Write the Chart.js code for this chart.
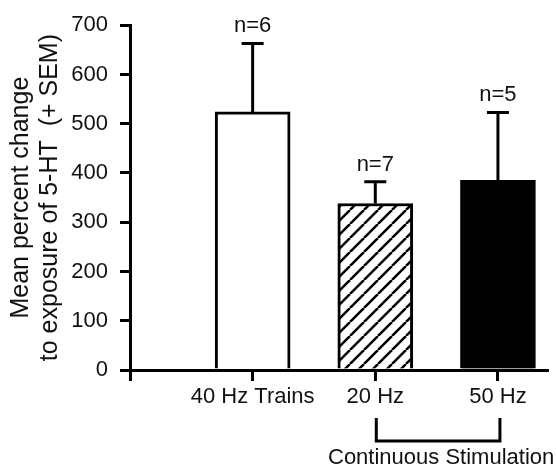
<!DOCTYPE html>
<html>
<head>
<meta charset="utf-8">
<script src="https://cdn.jsdelivr.net/npm/chart.js@4/dist/chart.umd.min.js"></script>
<style>html,body{margin:0;padding:0;background:#fff}</style>
</head>
<body>
<canvas id="myChart" width="556" height="468"></canvas>
<script>
const categories = ['40 Hz Trains', '20 Hz', '50 Hz'];
const positions = [1, 2, 3];
const means = [524, 338, 385];
const sems = [139, 44, 138];
const counts = ['n=6', 'n=7', 'n=5'];
const yTicks = [0, 100, 200, 300, 400, 500, 600, 700];
const groupLabel = 'Continuous Stimulation';

const FONT = '"Liberation Sans", Arial, sans-serif';
const INK = '#111';

function hatch() {
    const s = 14;
    const c = document.createElement('canvas');
    c.width = s;
    c.height = s;
    const g = c.getContext('2d');
    g.fillStyle = '#fff';
    g.fillRect(0, 0, s, s);
    g.strokeStyle = '#000';
    g.lineWidth = 2.5;
    g.beginPath();
    for (const k of [-1, 0, 1]) {
        g.moveTo(k * s, s);
        g.lineTo(k * s + s, 0);
    }
    g.stroke();
    return g.createPattern(c, 'repeat');
}

// error bars, n labels and the bracket under the last two groups
const extras = {
    id: 'extras',
    afterDatasetsDraw(chart) {
        const { ctx, chartArea, scales: { x, y } } = chart;
        const b = chartArea.bottom;
        ctx.save();
        ctx.strokeStyle = '#000';
        ctx.lineWidth = 3;
        ctx.fillStyle = INK;
        ctx.font = '22px ' + FONT;
        ctx.textAlign = 'center';
        ctx.textBaseline = 'alphabetic';

        positions.forEach((p, i) => {
            const px = x.getPixelForValue(p);
            const top = y.getPixelForValue(means[i] + sems[i]);
            const base = y.getPixelForValue(means[i]);
            ctx.beginPath();
            ctx.moveTo(px, base);
            ctx.lineTo(px, top);
            ctx.moveTo(px - 11, top);
            ctx.lineTo(px + 11, top);
            ctx.stroke();
            ctx.fillText(counts[i], px, top - 11);
        });

        const x1 = x.getPixelForValue(positions[1]) + 1;
        const x2 = x.getPixelForValue(positions[2]) + 2;
        ctx.beginPath();
        ctx.moveTo(x1, b + 48);
        ctx.lineTo(x1, b + 71);
        ctx.lineTo(x2, b + 71);
        ctx.lineTo(x2, b + 48);
        ctx.stroke();
        ctx.textBaseline = 'middle';
        ctx.fillText(groupLabel, (x1 + x2) / 2 + 3, b + 88);
        ctx.restore();
    }
};

new Chart(document.getElementById('myChart'), {
    type: 'bar',
    data: {
        datasets: [{
            data: positions.map((p, i) => ({ x: p, y: means[i] })),
            backgroundColor: ['#fff', hatch(), '#000'],
            borderColor: '#000',
            borderWidth: 3,
            borderSkipped: 'start',
            barThickness: 75,
        }]
    },
    options: {
        responsive: false,
        animation: false,
        layout: { padding: { top: 25, right: 9, left: 0, bottom: 0 } },
        plugins: {
            legend: { display: false },
            tooltip: { enabled: false },
        },
        scales: {
            x: {
                type: 'linear',
                min: 0,
                max: 3.4,
                offset: false,
                afterBuildTicks: (scale) => {
                    scale.ticks = [0, ...positions].map((v) => ({ value: v }));
                },
                afterFit: (scale) => { scale.height = 98; },
                grid: { offset: false, drawOnChartArea: false, drawTicks: true, tickLength: 11,
                    color: '#000', lineWidth: 3 },
                border: { color: '#000', width: 3 },
                ticks: {
                    autoSkip: false,
                    maxRotation: 0,
                    padding: 3,
                    color: INK,
                    font: { family: FONT, size: 22 },
                    callback: (v) => categories[positions.indexOf(v)] || '',
                },
            },
            y: {
                min: 0,
                max: 700,
                afterBuildTicks: (scale) => {
                    scale.ticks = yTicks.map((v) => ({ value: v }));
                },
                afterFit: (scale) => { scale.width = 130; },
                grid: { drawOnChartArea: false, drawTicks: true, tickLength: 10, color: '#000', lineWidth: 3 },
                border: { color: '#000', width: 3 },
                ticks: {
                    padding: 12,
                    color: INK,
                    font: { family: FONT, size: 22 },
                },
                title: {
                    display: true,
                    text: ['Mean percent change', 'to exposure of 5-HT  (+ SEM)'],
                    color: INK,
                    font: { family: FONT, size: 25, lineHeight: 1.16 },
                    padding: { top: 7, bottom: 0 },
                },
            },
        },
    },
    plugins: [extras],
});
</script>
</body>
</html>
